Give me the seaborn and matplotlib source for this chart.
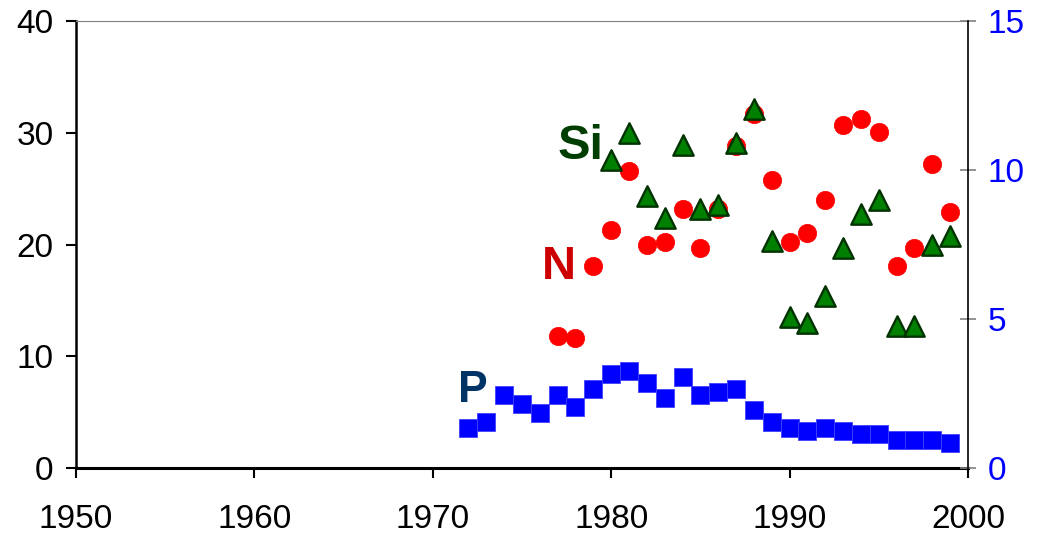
import matplotlib
matplotlib.use("Agg")
import matplotlib.pyplot as plt
import seaborn as sns
import pandas as pd

# ---- data ----
p_years = list(range(1972, 2000))
p_values = [1.33, 1.53, 2.44, 2.14, 1.84, 2.44, 2.04, 2.64, 3.14, 3.24, 2.84, 2.34, 3.04, 2.44,
            2.54, 2.64, 1.94, 1.53, 1.33, 1.23, 1.33, 1.23, 1.13, 1.13, 0.93, 0.93, 0.93, 0.83]

n_years = list(range(1977, 2000))
n_values = [11.8, 11.6, 18.1, 21.3, 26.6, 20.0, 20.2, 23.2, 19.7, 23.2, 28.8, 31.7, 25.8,
            20.2, 21.0, 24.0, 30.7, 31.2, 30.1, 18.1, 19.7, 27.2, 22.9]

si_years = list(range(1980, 2000))
si_values = [27.6, 30.0, 24.3, 22.4, 28.9, 23.2, 23.5, 29.1, 32.1, 20.3, 13.5, 13.0, 15.4,
             19.7, 22.7, 24.0, 12.7, 12.7, 20.0, 20.8]

x_ticks = [1950, 1960, 1970, 1980, 1990, 2000]
left_ticks = [0, 10, 20, 30, 40]
right_ticks = [0, 5, 10, 15]

sns.set_style("white")
plt.rcParams['font.family'] = ['Liberation Sans', 'DejaVu Sans']

fig = plt.figure(figsize=(10.45, 5.35), dpi=100)
ax = fig.add_axes([0.0727, 0.1252, 0.8536, 0.8355])

df_n = pd.DataFrame({"year": n_years, "value": n_values})
df_si = pd.DataFrame({"year": si_years, "value": si_values})
df_p = pd.DataFrame({"year": p_years, "value": p_values})

sns.scatterplot(data=df_n, x="year", y="value", ax=ax, marker="o", s=175,
                color="#FF0000", edgecolor="#FF0000", linewidth=0.5, zorder=3)
sns.scatterplot(data=df_si, x="year", y="value", ax=ax, marker="^", s=215,
                color="#008000", edgecolor="#003300", linewidth=1.7, zorder=4)

ax.set_xlim(1950, 2000)
ax.set_ylim(0, 40)
ax.set_xticks(x_ticks)
ax.set_yticks(left_ticks)
ax.set_xlabel("")
ax.set_ylabel("")
ax.tick_params(axis="x", direction="out", length=7, width=1.5, colors="black",
               labelsize=24, pad=19, bottom=True)
ax.tick_params(axis="y", direction="out", length=7, width=1.5, colors="black",
               labelsize=24, pad=9, left=True)
ax.spines["left"].set_linewidth(1.8)
ax.spines["left"].set_color("black")
ax.spines["bottom"].set_linewidth(2.2)
ax.spines["bottom"].set_color("black")
ax.spines["top"].set_linewidth(0.8)
ax.spines["top"].set_color("#808080")
ax.spines["right"].set_visible(False)

ax.text(1977.0, 27.65, "Si", color="#003D00", fontsize=35, fontweight="bold",
        ha="left", va="baseline")
ax.text(1976.1, 16.9, "N", color="#CC0000", fontsize=34, fontweight="bold",
        ha="left", va="baseline")
ax.text(1971.4, 5.9, "P", color="#003366", fontsize=32, fontweight="bold",
        ha="left", va="baseline")

ax2 = ax.twinx()
sns.scatterplot(data=df_p, x="year", y="value", ax=ax2, marker="s", s=165,
                color="#0000FF", edgecolor="#4040FF", linewidth=0.6, zorder=3)
ax2.set_ylim(0, 15)
ax2.set_yticks(right_ticks)
ax2.set_ylabel("")
ax2.tick_params(axis="y", direction="inout", length=12, width=1.2, colors="#808080",
                labelcolor="#0000FF", labelsize=24, pad=8, right=True)
for s in ["left", "top", "bottom"]:
    ax2.spines[s].set_visible(False)
ax2.spines["right"].set_linewidth(1.2)
ax2.spines["right"].set_color("black")

fig.savefig("out.png", dpi=100)
